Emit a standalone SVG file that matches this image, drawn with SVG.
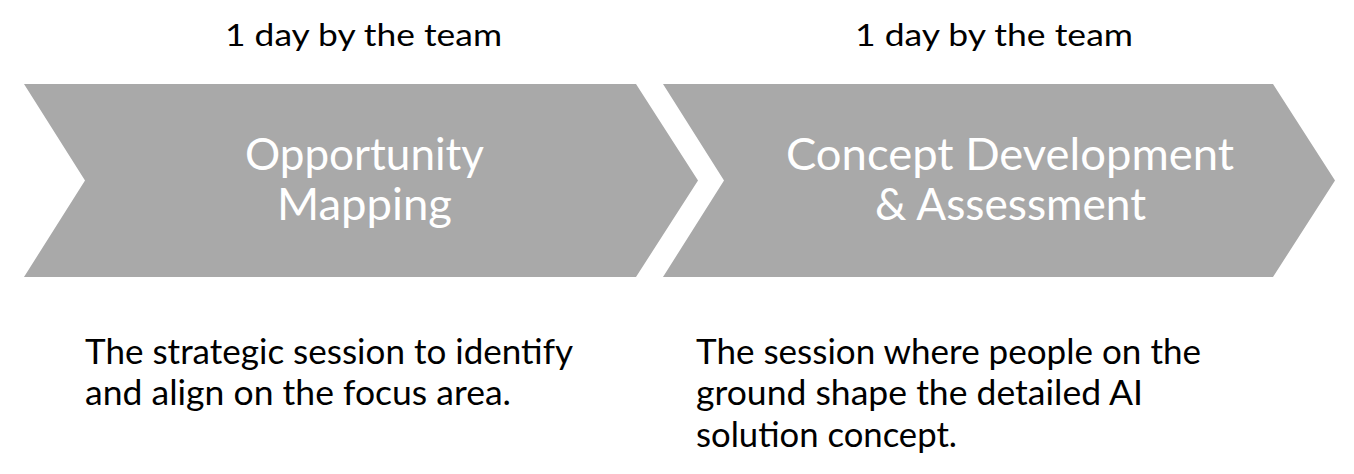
<svg xmlns="http://www.w3.org/2000/svg" width="1354" height="474" viewBox="0 0 1354 474">
<style>
.chev{fill:#a9a9a9}
.t{font-family:Lato,"Noto Sans",sans-serif;fill:#000}
.top{font-size:31px;text-anchor:middle}
.in{font-size:44px;fill:#fff;text-anchor:middle}
.desc{font-size:34px}
</style>
<rect width="1354" height="474" fill="#fff"/>
<g id="step1">
<polygon class="chev" points="24,84 636,84 698,180.5 636,277 24,277 85,180.5"/>
<text class="t top" x="363.5" y="46" textLength="277" lengthAdjust="spacingAndGlyphs">1 day by the team</text>
<text class="t in" x="364.5" y="170" textLength="239" lengthAdjust="spacingAndGlyphs">Opportunity</text>
<text class="t in" x="364.5" y="220" textLength="175" lengthAdjust="spacingAndGlyphs">Mapping</text>
<text class="t desc" x="85" y="364" textLength="488" lengthAdjust="spacingAndGlyphs">The strategic session to identify</text>
<text class="t desc" x="85" y="405" textLength="426" lengthAdjust="spacingAndGlyphs">and align on the focus area.</text>
</g>
<g id="step2">
<polygon class="chev" points="663,84 1273,84 1335,180.5 1273,277 663,277 724,180.5"/>
<text class="t top" x="994" y="46" textLength="278" lengthAdjust="spacingAndGlyphs">1 day by the team</text>
<text class="t in" x="1010" y="170" textLength="448" lengthAdjust="spacingAndGlyphs">Concept Development</text>
<text class="t in" x="1010.5" y="220" textLength="271" lengthAdjust="spacingAndGlyphs">&amp; Assessment</text>
<text class="t desc" x="696" y="364" textLength="505" lengthAdjust="spacingAndGlyphs">The session where people on the</text>
<text class="t desc" x="696" y="405" textLength="447" lengthAdjust="spacingAndGlyphs">ground shape the detailed AI</text>
<text class="t desc" x="696" y="446.5" textLength="261" lengthAdjust="spacingAndGlyphs">solution concept.</text>
</g>
<g id="connectors"/>
</svg>
